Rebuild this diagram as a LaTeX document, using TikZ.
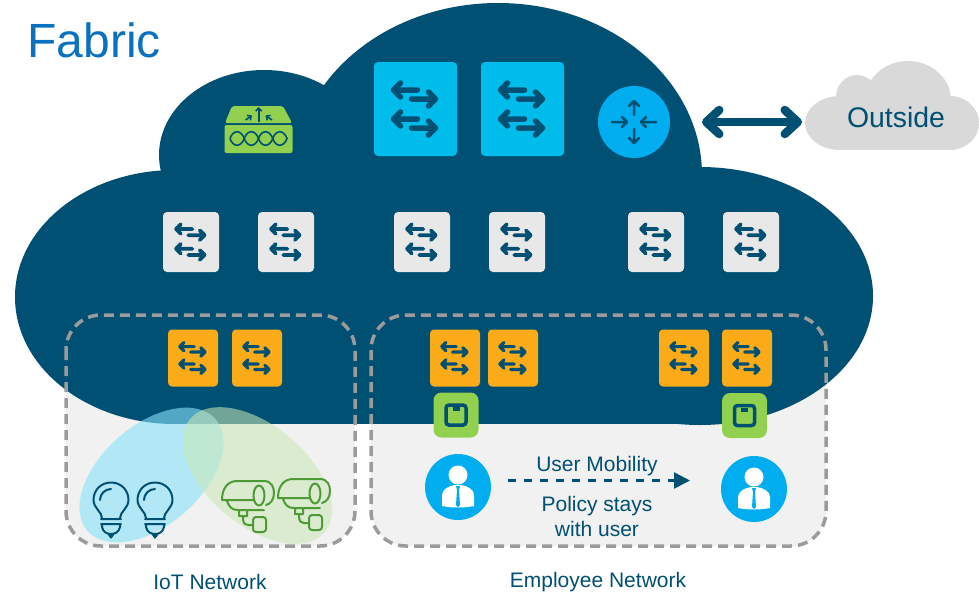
\documentclass[tikz,border=0pt]{standalone}
\usepackage{fontspec}
\setmainfont{Liberation Sans}
\usetikzlibrary{arrows.meta,shapes.geometric}
\definecolor{fabricblue}{HTML}{005073}
\definecolor{titleblue}{HTML}{0A70C0}
\definecolor{coreblue}{HTML}{00BCEB}
\definecolor{userblue}{HTML}{00AEEF}
\definecolor{edgeorange}{HTML}{FBAB18}
\definecolor{borderlime}{HTML}{92D14F}
\definecolor{camgreen}{HTML}{4F9A36}
\definecolor{midgrey}{HTML}{E8E8E8}
\definecolor{panelgrey}{HTML}{F1F1F1}
\definecolor{dashgrey}{HTML}{9B9B9B}
\definecolor{outsidegrey}{HTML}{D9D9D9}
\tikzset{
    swbox/.style = {rectangle, rounded corners=4pt, inner sep=0pt},
    core/.style = {swbox, fill=coreblue, minimum width=83pt, minimum height=94pt},
    mid/.style = {swbox, fill=midgrey, minimum width=56pt, minimum height=60pt},
    edgesw/.style = {swbox, fill=edgeorange, minimum width=50pt, minimum height=57pt},
    borderbox/.style = {swbox, rounded corners=8pt, fill=borderlime, minimum size=45pt},
    usercircle/.style = {circle, fill=userblue, minimum size=66pt, inner sep=0pt},
    blob/.style = {ellipse, inner sep=0pt},
    netbox/.style = {rounded corners=35pt},
    lbl/.style = {text=fabricblue, font=\fontsize{21}{25}\selectfont, inner sep=0pt, align=center},
    pics/swarrows/.style = {code={
        \foreach \y in {-19,10} {
            \draw[fabricblue, line cap=round, line join=round]
                (2,\y) -- (-22,\y) (-15,\y-7) -- (-22,\y) -- (-15,\y+7)
                (-4,\y+9) -- (20,\y+9) (13,\y+2) -- (20,\y+9) -- (13,\y+16);
        }
    }},
    pics/bulb/.style = {code={
        \draw[fabricblue, line width=2pt, line cap=round, line join=round]
            (-9,18) .. controls (-9,12) and (-17.5,8) .. (-17.5,0)
            .. controls (-17.5,-10) and (-10,-17.5) .. (0,-17.5)
            .. controls (10,-17.5) and (17.5,-10) .. (17.5,0)
            .. controls (17.5,8) and (9,12) .. (9,18)
            (-10,19) -- (10,19) (-10,24) -- (10,24)
            (-9,25) -- (-9,27) .. controls (-8,32) and (-4,34) .. (0,34)
            .. controls (4,34) and (8,32) .. (9,27) -- (9,25)
            (-2.5,34) -- (0,37.5) -- (2.5,34)
            (-11,0) .. controls (-11,-6) and (-6,-11) .. (0,-11);
    }},
    pics/camera/.style = {code={
        \draw[camgreen, line width=2pt, line cap=round, line join=round]
            (0,20) .. controls (0,8) and (6,1) .. (15,1) -- (42,1)
            .. controls (50,1) and (52,8) .. (52,13) .. controls (52,20) and (48,24) .. (44,25)
            (0,20) -- (31,20)
            (5,21) .. controls (7,27) and (10,30) .. (16,30) -- (42,30)
            (37,15.5) ellipse [x radius=5.5, y radius=10]
            (17,30) -- (17,36) -- (25,36) -- (25,30)
            (21,36) -- (21,40) .. controls (21,43) and (23,45) .. (26,45) -- (31,45);
        \draw[camgreen, line width=2pt, rounded corners=3pt] (31,37) rectangle (44,52);
    }},
    pics/person/.style = {code={
        \fill[white] (0,-12) circle [radius=9.5];
        \fill[white] (-16,19) -- (-16,8) .. controls (-16,2) and (-9,-1) .. (-3,-2) -- (3,-2)
            .. controls (9,-1) and (16,2) .. (16,8) -- (16,19)
            .. controls (6,21) and (-6,21) .. (-16,19) -- cycle;
        \fill[userblue] (-2,-1) -- (2,-1) -- (1,3) -- (2,18) -- (0,20) -- (-2,18) -- (-1,3) -- cycle;
    }},
    pics/tagicon/.style = {code={
        \draw[fabricblue, line width=3.5pt, rounded corners=3pt] (-10,-10) rectangle (10,10);
        \fill[fabricblue] (-3.5,-8) rectangle (3.5,-4);
    }}
}
\begin{document}
\begin{tikzpicture}[x=1pt,y=-1pt,node distance=95pt]
    \useasboundingbox (0,0) rectangle (979,595);

    \fill[panelgrey, netbox] (66,315) rectangle (355,546);
    \fill[panelgrey, netbox] (371,315) rectangle (826,546);

    \fill[fabricblue] (175,297) ellipse [x radius=160, y radius=127];
    \fill[fabricblue] (700,296) ellipse [x radius=173, y radius=129];
    \fill[fabricblue] (264,155) ellipse [x radius=105, y radius=85];
    \fill[fabricblue] (498,175) ellipse [x radius=204, y radius=172];
    \fill[fabricblue] (175,170) rectangle (700,424);

    \fill[outsidegrey] (840,123) ellipse [x radius=35, y radius=27];
    \fill[outsidegrey] (857,97) ellipse [x radius=21, y radius=22];
    \fill[outsidegrey] (908,100) ellipse [x radius=43, y radius=39];
    \fill[outsidegrey] (950,123) ellipse [x radius=29, y radius=27];
    \fill[outsidegrey] (840,110) rectangle (955,150);

    \node[blob, fill=cyan!45!white, fill=coreblue!0!white, fill opacity=0, minimum width=1pt, minimum height=1pt] (anchorblob) at (151.5,475) {};
    \definecolor{bulbtint}{HTML}{89E2FA}
    \definecolor{camtint}{HTML}{C8E8B5}
    \node[blob, fill=bulbtint, fill opacity=.6, minimum width=170pt, minimum height=100pt, rotate=41] (bulbzone) at (151.5,475) {};
    \node[blob, fill=camtint, fill opacity=.56, minimum width=176pt, minimum height=100pt, rotate=-40] (camzone) at (257.5,475.5) {};

    \draw[dashgrey, netbox, line width=3.5pt, dash pattern=on 10pt off 6pt] (66,315) rectangle (355,546);
    \draw[dashgrey, netbox, line width=3.5pt, dash pattern=on 10pt off 6pt] (371,315) rectangle (826,546);

    \node[text=titleblue, font=\fontsize{48}{56}\selectfont, inner sep=0pt] (title) at (94,40) {Fabric};

    \node[core] (core1) at (415.5,109) {};
    \node[core] (core2) at (522.5,109) {};
    \foreach \n in {core1,core2}
        \pic[line width=5.5pt] at (\n) {swarrows};

    \node[circle, fill=userblue, minimum size=72pt, inner sep=0pt] (router) at (634,122) {};
    \foreach \r in {90,270} {
        \draw[fabricblue, line width=2.5pt, line cap=round, line join=round, rotate around={\r:(router)}]
            (627,122) -- (613,122) (618,117) -- (613,122) -- (618,127);
    }
    \foreach \r in {0,180} {
        \draw[fabricblue, line width=2.5pt, line cap=round, line join=round, rotate around={\r:(router)}]
            (612,122) -- (627,122) (622,117) -- (627,122) -- (622,127);
    }

    \coordinate (wanleft) at (702,122);
    \coordinate (wanright) at (802,122);
    \draw[fabricblue, line width=8.5pt, {Straight Barb[round,length=13pt,width=24pt]}-{Straight Barb[round,length=13pt,width=24pt]}] (wanleft) -- (wanright);
    \node[lbl, font=\fontsize{28.4}{32}\selectfont] (outside) at (896,117) {Outside};

    \fill[borderlime, rounded corners=2pt] (225,123) -- (232,106) -- (283,106) -- (292,123) -- cycle;
    \node[swbox, rounded corners=2pt, fill=borderlime, minimum width=68pt, minimum height=28pt] (fwbox) at (258.5,139) {};
    \foreach \i in {0,1,2,3} {
        \draw[fabricblue, line width=1.6pt, shift={(230+14.25*\i,138.5)}]
            (0,0) .. controls (3,-9) and (11,-9) .. (14.25,0)
            .. controls (11,9) and (3,9) .. (0,0);
    }
    \draw[fabricblue, line width=1.6pt, -{Straight Barb[length=3pt,width=6pt]}] (258.7,122) -- (258.7,107);
    \draw[fabricblue, line width=1.6pt, -{Straight Barb[length=3pt,width=6pt]}] (245.5,120) -- (252,115.5);
    \draw[fabricblue, line width=1.6pt, -{Straight Barb[length=3pt,width=6pt]}] (272,120) -- (265.5,115.5);

    \node[mid] (mid1) at (191,242) {};
    \node[mid] (mid2) [right of=mid1] {};
    \node[mid] (mid3) at (422,242) {};
    \node[mid] (mid4) [right of=mid3] {};
    \node[mid] (mid5) at (656,242) {};
    \node[mid] (mid6) [right of=mid5] {};
    \foreach \n in {mid1,mid2,mid3,mid4,mid5,mid6}
        \pic[scale=.68, line width=3.8pt] at (\n) {swarrows};

    \node[edgesw] (edge1) at (193,358) {};
    \node[edgesw] (edge2) at (257,358) {};
    \node[edgesw] (edge3) at (455,358) {};
    \node[edgesw] (edge4) at (513,358) {};
    \node[edgesw] (edge5) at (684,358) {};
    \node[edgesw] (edge6) at (747,358) {};
    \foreach \n in {edge1,edge2,edge3,edge4,edge5,edge6}
        \pic[scale=.6, line width=3.2pt] at (\n) {swarrows};

    \node[borderbox] (tag1) at (456,415) {};
    \node[borderbox] (tag2) at (744.5,415.5) {};
    \foreach \n in {tag1,tag2}
        \pic at (\n) {tagicon};

    \pic at (111,500) {bulb};
    \pic at (155,500) {bulb};
    \pic at (222,480) {camera};
    \pic at (278,478) {camera};

    \node[usercircle] (user1) at (458,487) {};
    \node[usercircle] (user2) at (754,489) {};
    \foreach \n in {user1,user2}
        \pic at (\n) {person};

    \coordinate (movestart) at (508,480.5);
    \coordinate (moveend) at (690,480.5);
    \draw[fabricblue, line width=2.5pt, dash pattern=on 8pt off 8pt, -{Triangle[length=16pt,width=16pt]}] (movestart) -- (moveend);

    \node[lbl] (mobility) at (597,466) {User Mobility};
    \node[lbl] (policy) at (597,516) {Policy stays\\with user};
    \node[lbl] (iotlabel) at (210,582) {IoT Network};
    \node[lbl] (emplabel) at (598,582) {Employee Network};
\end{tikzpicture}
\end{document}
